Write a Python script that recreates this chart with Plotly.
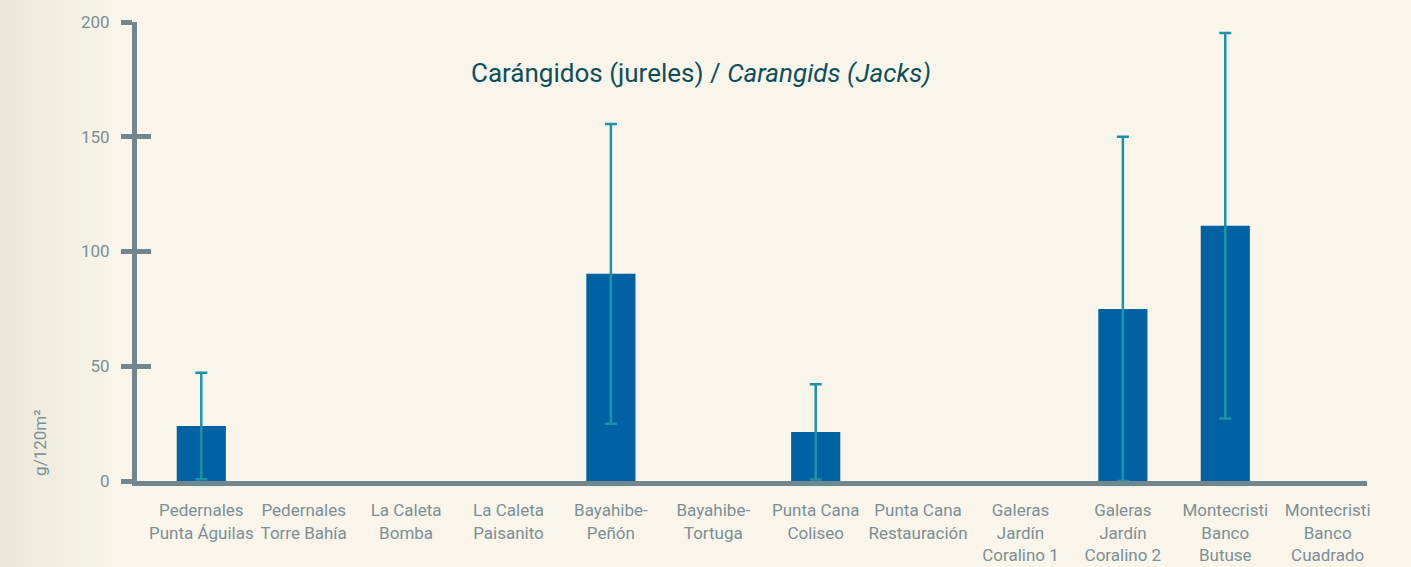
import plotly.graph_objects as go

categories = [
    "Pedernales<br>Punta Águilas", "Pedernales<br>Torre Bahía", "La Caleta<br>Bomba",
    "La Caleta<br>Paisanito", "Bayahibe-<br>Peñón", "Bayahibe-<br>Tortuga",
    "Punta Cana<br>Coliseo", "Punta Cana<br>Restauración", "Galeras<br>Jardín<br>Coralino 1",
    "Galeras<br>Jardín<br>Coralino 2", "Montecristi<br>Banco<br>Butuse", "Montecristi<br>Banco<br>Cuadrado",
]
values = [24.0, None, None, None, 90.3, None, 21.4, None, None, 75.0, 111.2, None]
errors = [23.2, None, None, None, 65.3, None, 20.8, None, None, 75.0, 84.0, None]
y_ticks = [0, 50, 100, 150, 200]

FONT = "Roboto, sans-serif"
AXIS = "#72878d"
LABEL = "#7c8f95"
BG = "#f9f5ea"

L, R, T, B = 137, 44, 22, 86
W, H = 1411, 567
plot_w = W - L - R

x_idx = list(range(len(categories)))

fig = go.Figure()
fig.add_trace(go.Bar(
    x=x_idx, y=values, width=0.48,
    marker=dict(color="#0062a3", line=dict(width=0)),
    error_y=dict(type="data", array=errors, visible=True,
                 color="#1a93a8", thickness=2.5, width=6),
    showlegend=False, hoverinfo="x+y",
))
fig.add_trace(go.Scatter(x=[0], y=[0], yaxis="y2", mode="markers",
                         marker=dict(opacity=0), showlegend=False, hoverinfo="skip"))

# soft left-edge shading of the page background
shapes = []
n_strips = 14
for i in range(n_strips):
    x0 = (-L + i * 8) / plot_w
    x1 = (-L + (i + 1) * 8) / plot_w
    shapes.append(dict(type="rect", xref="paper", yref="paper", x0=x0, x1=x1,
                       y0=-0.2, y1=1.1, line=dict(width=0), layer="below",
                       fillcolor="#d9d6c6", opacity=0.45 * (1 - i / n_strips)))

fig.update_layout(
    width=W, height=H,
    margin=dict(l=L, r=R, t=T, b=B, autoexpand=False),
    paper_bgcolor=BG, plot_bgcolor="rgba(0,0,0,0)",
    font=dict(family=FONT, color=LABEL, size=17),
    xaxis=dict(
        range=[-0.628, 11.384], tickmode="array", tickvals=x_idx, ticktext=categories,
        tickangle=0, showline=True, linecolor=AXIS, linewidth=5, showgrid=False, zeroline=False,
        ticks="", tickfont=dict(family=FONT, size=17, color=LABEL), ticklabelstandoff=10,
        fixedrange=True, automargin=False,
    ),
    yaxis=dict(
        range=[0, 200], tickmode="array", tickvals=y_ticks,
        showline=True, linecolor=AXIS, linewidth=5, showgrid=False, zeroline=False,
        ticks="outside", ticklen=11, tickwidth=5, tickcolor=AXIS,
        tickfont=dict(family=FONT, size=17, color=LABEL), ticklabelstandoff=8,
        automargin=False,
    ),
    yaxis2=dict(
        range=[0, 200], overlaying="y", side="left", tickmode="array", tickvals=y_ticks,
        showline=False, showgrid=False, zeroline=False, showticklabels=False,
        ticks="inside", ticklen=14, tickwidth=5, tickcolor=AXIS, automargin=False,
    ),
    annotations=[
        dict(text="Carángidos (jureles) / <i>Carangids (Jacks)</i>",
             xref="paper", yref="paper", x=(701 - L) / plot_w, y=0.888,
             xanchor="center", yanchor="middle",
             showarrow=False, font=dict(family=FONT, size=26, color="#0c4f5a")),
        dict(text="g/120m²", textangle=-90, xref="paper", yref="paper",
             x=(40 - L) / plot_w, y=0.083, xanchor="center", yanchor="middle",
             showarrow=False, font=dict(family=FONT, size=17, color=LABEL)),
    ],
    shapes=shapes,
)

fig.write_html("out.html", config={"displayModeBar": False},
               post_script="document.body.style.margin='0';document.body.style.background='%s';" % BG)
